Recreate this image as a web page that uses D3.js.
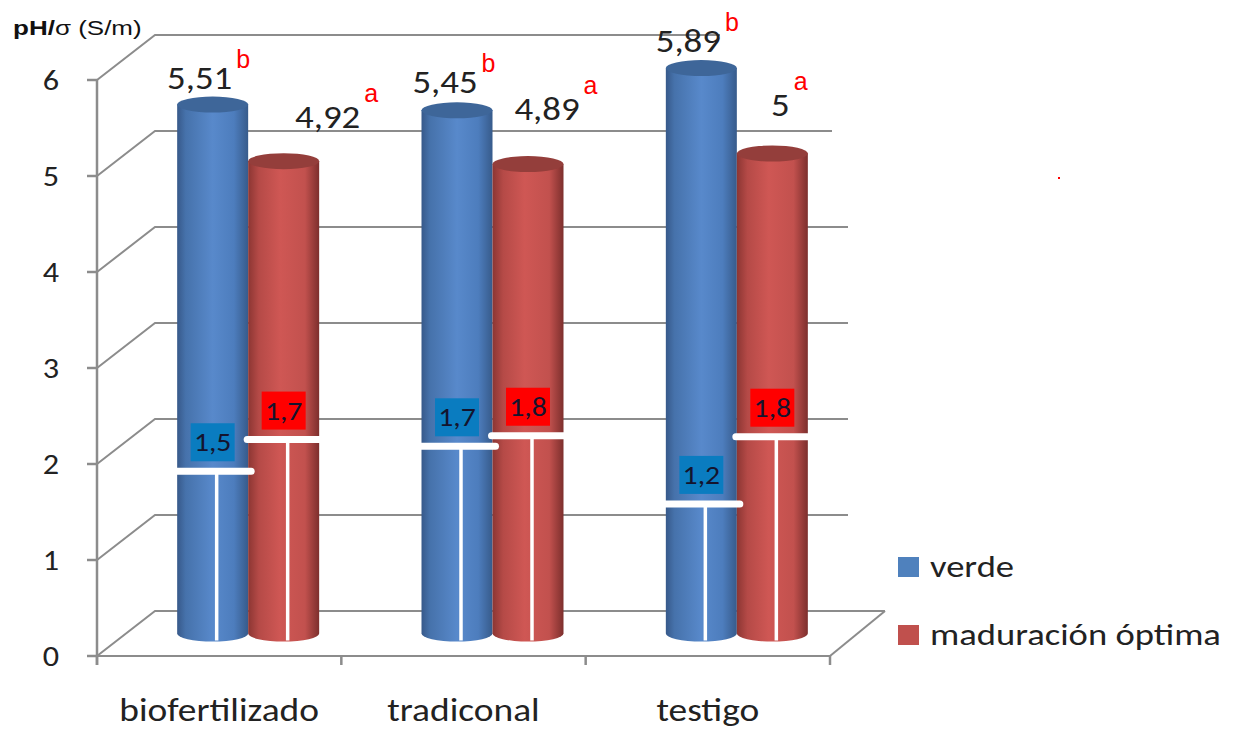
<!DOCTYPE html>
<html>
<head>
<meta charset="utf-8">
<script src="https://cdn.jsdelivr.net/npm/d3@7"></script>
<style>
  body { margin: 0; background: #fff; }
  svg { display: block; }
  text { font-family: Carlito, Calibri, Lato, sans-serif; fill: #222; }
</style>
</head>
<body>
<div id="chart"></div>
<script>
// values
var categories = ["biofertilizado", "tradiconal", "testigo"];
var series = ["verde", "maduración óptima"];
var verde = [5.51, 5.45, 5.89];
var maduracion = [4.92, 4.89, 5];
var verdeSigma = [1.5, 1.7, 1.2];
var maduracionSigma = [1.7, 1.8, 1.8];
// height of the white sigma markers as drawn in the picture (value units)
var verdeSigmaMark = [1.69, 1.95, 1.35];
var maduracionSigmaMark = [2.02, 2.06, 2.05];
var verdeLetters = ["b", "b", "b"];
var maduracionLetters = ["a", "a", "a"];
var yTicks = [0, 1, 2, 3, 4, 5, 6];

var W = 1235, H = 731;
var depth = { dx: 58, dy: -45 };       // back wall offset
var mid = { dx: 29, dy: -22.5 };       // cylinders sit half way in
var colors = ["#4f81bd", "#c0504d"];

var svg = d3.select("#chart").append("svg").attr("width", W).attr("height", H);

// the original picture is a bit stretched sideways, so text gets a scaleX
function place(sel, fx, fy, sx) {
	return sel.attr("transform", (d, i) => `translate(${fx(d, i)},${fy(d, i)}) scale(${sx},1)`);
}

var x = d3.scaleBand().domain(categories).range([97, 830]);
var y = d3.scaleLinear().domain([0, 6]).range([656, 80]);
var cylW = 71;
var xSub = d3.scaleBand().domain(series)
	.range([x.bandwidth() / 2 - cylW, x.bandwidth() / 2 + cylW]);

// gradients for the cylinder sides
var defs = svg.append("defs");
function grad(id, stops) {
	var g = defs.append("linearGradient").attr("id", id)
		.attr("x1", "0%").attr("x2", "100%").attr("y1", "0%").attr("y2", "0%");
	stops.forEach(function (s) {
		g.append("stop").attr("offset", s[0]).attr("stop-color", s[1]);
	});
}
grad("side0", [[0, "#37598a"], [0.12, "#4672ab"], [0.5, "#5889cb"], [0.8, "#4d7dbd"], [1, "#375b8b"]]);
grad("side1", [[0, "#8c3633"], [0.15, "#b54a47"], [0.45, "#cf5754"], [0.8, "#c2514e"], [1, "#7d2f2d"]]);
var topColors = ["#3e6699", "#943e3b"];

// back wall grid lines + left diagonals
var gridCol = "#8c8c8c";
var grid = svg.append("g").attr("class", "grid")
	.attr("stroke", gridCol).attr("stroke-width", 2).attr("fill", "none");
function gridEnd(t) {
	if (t === 0) return 885;
	if (t === 6) return 720;
	if (t === 5) return 832;
	return 848;
}
yTicks.forEach(function (t) {
	var yy = y(t);
	grid.append("path")
		.attr("d", `M97,${yy} L${97 + depth.dx},${yy + depth.dy} L${gridEnd(t)},${yy + depth.dy}`);
});
// floor
grid.append("path")
	.attr("d", `M${x.range()[1]},${y(0)} L${x.range()[1] + 55},${y(0) + depth.dy}`);
grid.append("line")
	.attr("x1", 97).attr("x2", x.range()[1]).attr("y1", y(0)).attr("y2", y(0));

// front y axis
var axis = svg.append("g").attr("stroke", gridCol).attr("stroke-width", 2.5);
axis.append("line").attr("x1", 97).attr("x2", 97).attr("y1", y(6)).attr("y2", y(0) + 9);
yTicks.forEach(function (t) {
	axis.append("line").attr("x1", 87).attr("x2", 97).attr("y1", y(t)).attr("y2", y(t));
});
place(svg.append("g").selectAll("text").data(yTicks).join("text"),
	d => 51, d => y(d) + 10, 1.15)
	.attr("text-anchor", "middle").attr("font-size", 28)
	.text(d => d);

// x ticks
var xTickPos = categories.map(c => x(c)).concat([x.range()[1]]);
xTickPos.forEach(function (p) {
	axis.append("line").attr("x1", p).attr("x2", p).attr("y1", y(0)).attr("y2", y(0) + 9);
});
place(svg.append("g").selectAll("text").data(categories).join("text"),
	d => x(d) + x.bandwidth() / 2, d => 721, 1.17)
	.attr("text-anchor", "middle").attr("font-size", 32)
	.text(d => d);

// rows of cylinder data
var rows = [];
categories.forEach(function (c, i) {
	rows.push({ cat: c, s: 0, v: verde[i], sig: verdeSigma[i], mark: verdeSigmaMark[i], letter: verdeLetters[i], i: i });
	rows.push({ cat: c, s: 1, v: maduracion[i], sig: maduracionSigma[i], mark: maduracionSigmaMark[i], letter: maduracionLetters[i], i: i });
});
function cx(d) { return x(d.cat) + xSub(series[d.s]) + cylW / 2 + mid.dx; }
function cy(v) { return y(v) + mid.dy; }
var rx = cylW / 2, ry = 8;

var cyl = svg.append("g").selectAll("g").data(rows).join("g");
cyl.append("path")
	.attr("fill", d => `url(#side${d.s})`)
	.attr("d", function (d) {
		var l = cx(d) - rx, r = cx(d) + rx, t = cy(d.v), b = cy(0);
		return `M${l},${t} L${l},${b} A${rx},${ry} 0 0 0 ${r},${b} L${r},${t} Z`;
	});
cyl.append("ellipse")
	.attr("cx", cx).attr("cy", d => cy(d.v))
	.attr("rx", rx).attr("ry", ry)
	.attr("fill", d => topColors[d.s]);

// white sigma markers
var marks = svg.append("g").attr("stroke", "#fff").attr("fill", "none");
rows.forEach(function (d) {
	var my = cy(d.mark);
	marks.append("line")
		.attr("x1", cx(d) + 4).attr("x2", cx(d) + 4)
		.attr("y1", my).attr("y2", cy(0) + ry - 1)
		.attr("stroke-width", 3.5);
	marks.append("line")
		.attr("x1", cx(d) - rx - 1).attr("x2", cx(d) + rx + 3)
		.attr("y1", my).attr("y2", my)
		.attr("stroke-width", 7).attr("stroke-linecap", "round");
});

// sigma boxes
var boxColors = ["#0a7cc0", "#ff0000"];
var boxes = svg.append("g").selectAll("g").data(rows).join("g");
boxes.append("rect")
	.attr("x", d => cx(d) - 22).attr("y", d => cy(d.mark) - 48)
	.attr("width", 44).attr("height", 38)
	.attr("fill", d => boxColors[d.s]);
place(boxes.append("text"), d => cx(d), d => cy(d.mark) - 20, 1.1)
	.attr("text-anchor", "middle").attr("font-size", 27)
	.style("fill", "#14142e")
	.text(d => String(d.sig).replace(".", ","));

// value labels with letters
var labelShift = [[[-13, -16], [44, -33]], [[-12, -17], [19, -44]], [[-13, -16], [8, -38]]];
var valSx = 1.15;
var vl = svg.append("g").selectAll("g").data(rows).join("g");
place(vl.append("text").attr("class", "val"),
	d => cx(d) + labelShift[d.i][d.s][0], d => cy(d.v) + labelShift[d.i][d.s][1], valSx)
	.attr("text-anchor", "middle").attr("font-size", 32)
	.text(d => String(d.v).replace(".", ","));
vl.each(function (d) {
	var g = d3.select(this);
	var w = g.select("text.val").node().getComputedTextLength() * valSx;
	g.append("text")
		.attr("x", cx(d) + labelShift[d.i][d.s][0] + w / 2 + 4)
		.attr("y", cy(d.v) + labelShift[d.i][d.s][1] - (d.s === 0 ? 21 : 26))
		.attr("font-size", 25)
		.style("font-family", "'Liberation Sans', Arial, sans-serif")
		.style("fill", "#ff0000")
		.text(d.letter);
});

// axis title
var title = svg.append("text")
	.attr("transform", "translate(13,35) scale(1.3,1)")
	.attr("font-size", 20)
	.style("font-family", "'Liberation Sans', Arial, sans-serif")
	.style("fill", "#111");
title.append("tspan").attr("font-weight", "bold").text("pH/");
title.append("tspan").text("σ (S/m)");

// legend
var legend = svg.append("g").selectAll("g").data(series).join("g")
	.attr("transform", (d, i) => `translate(898, ${557 + i * 68})`);
legend.append("rect").attr("width", 21).attr("height", 20)
	.attr("fill", (d, i) => colors[i]);
legend.append("text").attr("transform", "translate(32,20) scale(1.22,1)")
	.attr("font-size", 30).text(d => d);

// stray red dot in the original
svg.append("rect").attr("x", 1058).attr("y", 177).attr("width", 2).attr("height", 2).attr("fill", "#ff0000");
</script>
</body>
</html>
